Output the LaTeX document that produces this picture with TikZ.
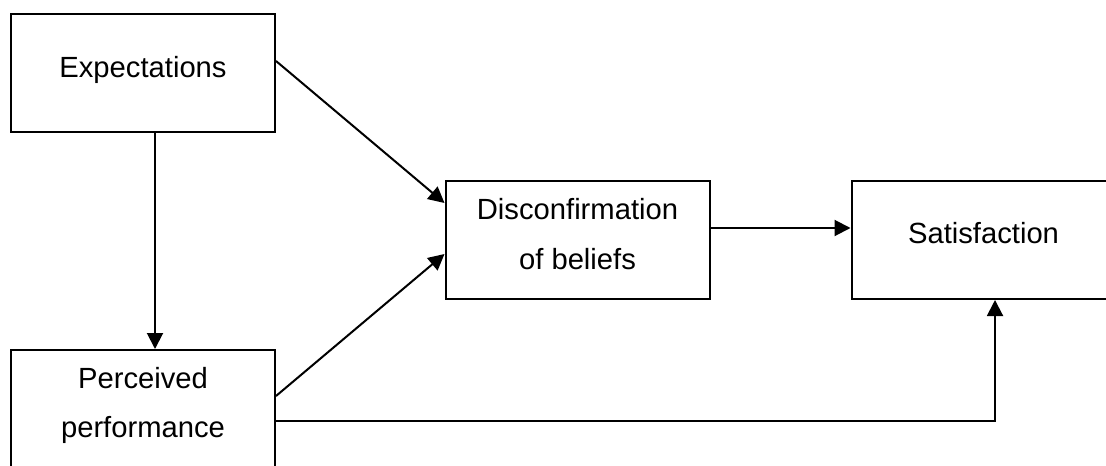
\documentclass[tikz,border=0pt]{standalone}
\usepackage{fontspec}
\setmainfont{Liberation Sans}
\usetikzlibrary{arrows.meta}
\begin{document}
\begin{tikzpicture}[x=0.5pt,y=-0.5pt,
  box/.style={draw,line width=1pt,minimum width=132pt,minimum height=59pt,inner sep=0pt},
  lbl/.style={font=\fontsize{14.6}{25.5}\selectfont,anchor=base,inner sep=0pt},
  arr/.style={line width=1pt,-{Triangle[length=8pt,width=8pt]}},
  ln/.style={line width=1pt}]
\fill[white] (0,0) rectangle (1106,465);
\clip (0,0) rectangle (1106,465);
\node[box] (exp) at (143,73) {};
\node[box] (perc) at (143,409) {};
\node[box] (disc) at (577.5,240) {};
\node[box] (sat) at (983.5,240) {};
\node[lbl] (texp) at (143,77) {Expectations};
\node[lbl] (tperc1) at (143,388) {Perceived};
\node[lbl] (tperc2) at (143,437) {performance};
\node[lbl] (tdisc1) at (577.5,219) {Disconfirmation};
\node[lbl] (tdisc2) at (577.5,269) {of beliefs};
\node[lbl] (tsat) at (983.5,243) {Satisfaction};
\coordinate (corner) at (995,421);
\draw[arr] (exp.south -| 155,0) -- (perc.north -| 155,0);
\draw[arr] (exp.east |- 0,61) -- (disc.west |- 0,203);
\draw[arr] (perc.east |- 0,396) -- (disc.west |- 0,254);
\draw[arr] (disc.east |- 0,228) -- (sat.west |- 0,228);
\draw[arr] (perc.east |- corner) -- (corner) -- (sat.south -| corner);
\end{tikzpicture}
\end{document}
